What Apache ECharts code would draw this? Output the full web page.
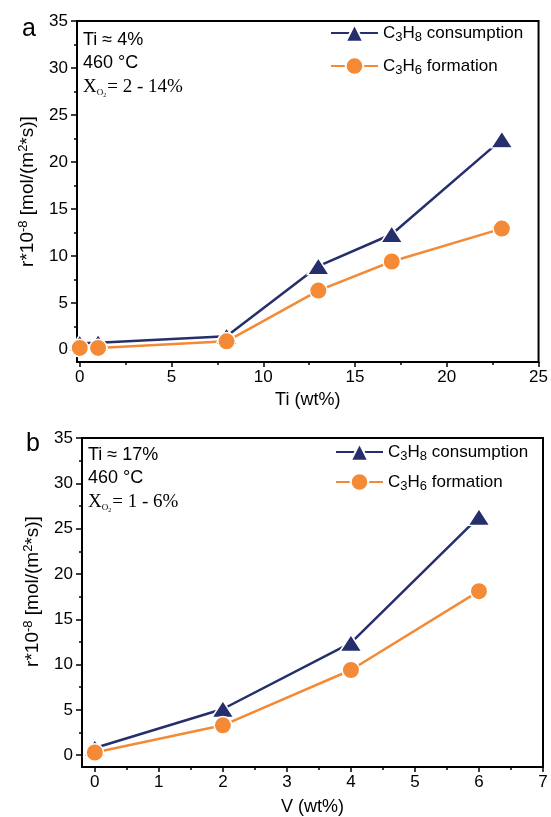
<!DOCTYPE html>
<html>
<head>
<meta charset="utf-8">
<script src="https://cdn.jsdelivr.net/npm/echarts@6/dist/echarts.min.js"></script>
<style>
html,body{margin:0;padding:0;background:#fff;}
#c{width:551px;height:817px;}
</style>
</head>
<body>
<div id="c"></div>
<script>
// ---- data ----
var tiX = [0, 1, 8, 13, 17, 23];
var tiC3H8 = [0.7, 0.75, 1.45, 8.9, 12.3, 22.4];
var tiC3H6 = [0.2, 0.2, 0.9, 6.3, 9.4, 12.9];

var vX = [0, 2, 4, 6];
var vC3H8 = [0.8, 5.1, 12.4, 26.3];
var vC3H6 = [0.3, 3.3, 9.4, 18.1];

var tiMajor = [0, 5, 10, 15, 20, 25];
var tiMinor = [2.5, 7.5, 12.5, 17.5, 22.5];
var vMajor = [0, 1, 2, 3, 4, 5, 6, 7];
var vMinor = [0.5, 1.5, 2.5, 3.5, 4.5, 5.5, 6.5];
var yMajor = [0, 5, 10, 15, 20, 25, 30, 35];
var yMinor = [2.5, 7.5, 12.5, 17.5, 22.5, 27.5, 32.5];

var seriesNames = ['C3H8 consumption', 'C3H6 formation'];
var legendLabels = {
  'C3H8 consumption': 'C{sub|3}H{sub|8} consumption',
  'C3H6 formation': 'C{sub|3}H{sub|6} formation'
};

var NAVY = '#262f6b';
var ORANGE = '#f48a35';
var FONT = 'Liberation Sans, Arial, sans-serif';
var SERIF = 'Liberation Serif, Times New Roman, serif';

function zip(a, b) { return a.map(function (v, i) { return [v, b[i]]; }); }

var chart = echarts.init(document.getElementById('c'), null, {renderer: 'canvas'});

var yName = 'r*10{sup|-8} [mol/(m{sup|2}*s)]';
function yNameStyle(pad) {
  return {
    fontSize: 19, fontFamily: FONT, color: '#000', padding: pad,
    rich: { sup: { fontSize: 13, fontFamily: FONT, padding: [0, 0, 8, 0], lineHeight: 13 } }
  };
}

function mainX(grid, min, max, major, name, gap) {
  return {
    type: 'value', gridIndex: grid, min: min, max: max, position: 'bottom',
    axisLine: { show: true, onZero: false, lineStyle: { color: '#000', width: 2 } },
    axisTick: { show: true, inside: false, length: 5, customValues: major, lineStyle: { color: '#000', width: 1.5 } },
    axisLabel: { show: true, customValues: major, fontSize: 17, fontFamily: FONT, color: '#000', margin: 7 },
    splitLine: { show: false },
    name: name, nameLocation: 'middle', nameGap: gap,
    nameTextStyle: { fontSize: 18, fontFamily: FONT, color: '#000' }
  };
}
function minorX(grid, min, max, minor) {
  return {
    type: 'value', gridIndex: grid, min: min, max: max, position: 'bottom',
    axisLine: { show: false, onZero: false },
    axisTick: { show: true, inside: false, length: 3, customValues: minor, lineStyle: { color: '#000', width: 1.5 } },
    axisLabel: { show: false }, splitLine: { show: false }
  };
}
function mainY(grid, min, max, gap, pad) {
  return {
    type: 'value', gridIndex: grid, min: min, max: max, position: 'left',
    axisLine: { show: true, onZero: false, lineStyle: { color: '#000', width: 2 } },
    axisTick: { show: true, inside: false, length: 6, customValues: yMajor, lineStyle: { color: '#000', width: 1.5 } },
    axisLabel: { show: true, customValues: yMajor, fontSize: 17, fontFamily: FONT, color: '#000', margin: 9 },
    splitLine: { show: false },
    name: yName, nameLocation: 'middle', nameGap: gap, nameRotate: 90,
    nameTextStyle: yNameStyle(pad)
  };
}
function minorY(grid, min, max) {
  return {
    type: 'value', gridIndex: grid, min: min, max: max, position: 'left',
    axisLine: { show: false, onZero: false },
    axisTick: { show: true, inside: false, length: 3, customValues: yMinor, lineStyle: { color: '#000', width: 1.5 } },
    axisLabel: { show: false }, splitLine: { show: false }
  };
}

function lineSeries(name, xi, yi, data, color, symbol, size) {
  return {
    name: name, type: 'line', xAxisIndex: xi, yAxisIndex: yi, data: data,
    symbol: symbol, symbolSize: size, showSymbol: true, clip: false,
    color: color,
    lineStyle: { color: color, width: 2.5 },
    itemStyle: { color: color, borderColor: '#fff', borderWidth: 1.5 },
    emphasis: { disabled: true }, animation: false
  };
}

function legendAt(left, top, gap) {
  return {
    orient: 'vertical', left: left, top: top,
    itemWidth: 47, itemHeight: 22, itemGap: gap,
    data: seriesNames,
    formatter: function (n) { return legendLabels[n]; },
    textStyle: {
      fontSize: 17, fontFamily: FONT, color: '#000', lineHeight: 20,
      rich: { sub: { fontSize: 13, fontFamily: FONT, padding: [9, 0, 0, 0], lineHeight: 14 } }
    },
    selectedMode: false
  };
}

function annot(left, top, lines) {
  var els = [];
  els.push({ type: 'text', left: left, top: top, style: { text: lines[0], font: '18px ' + FONT, fill: '#000' } });
  els.push({ type: 'text', left: left, top: top + 23, style: { text: '460 °C', font: '18px ' + FONT, fill: '#000' } });
  els.push({ type: 'text', left: left, top: top + 45, style: {
    text: '{x|X}{o|O}{t|2}{x|= ' + lines[1] + '}',
    rich: {
      x: { fontSize: 19, fontFamily: SERIF, lineHeight: 20 },
      o: { fontSize: 9, fontFamily: SERIF, padding: [12, 0, 0, 0], lineHeight: 10 },
      t: { fontSize: 6, fontFamily: SERIF, padding: [16, 1, 0, 0], lineHeight: 6 }
    }, fill: '#000' } });
  return els;
}

var option = {
  backgroundColor: '#fff',
  animation: false,
  grid: [
    { left: 77, top: 21, width: 463, height: 341, show: true, borderColor: '#000', borderWidth: 2, backgroundColor: 'transparent' },
    { left: 82, top: 438, width: 461, height: 331, show: true, borderColor: '#000', borderWidth: 2, backgroundColor: 'transparent' }
  ],
  xAxis: [
    mainX(0, -0.15, 25, tiMajor, 'Ti (wt%)', 29),
    minorX(0, -0.15, 25, tiMinor),
    mainX(1, -0.2, 7, vMajor, 'V (wt%)', 31),
    minorX(1, -0.2, 7, vMinor)
  ],
  yAxis: [
    mainY(0, -1.3, 35, 38, [0, 0, 0, 0]),
    minorY(0, -1.3, 35),
    mainY(1, -1.3, 35, 40, [0, 0, 0, 22]),
    minorY(1, -1.3, 35)
  ],
  legend: [legendAt(325, 17, 11), legendAt(330, 436, 8)],
  series: [
    lineSeries('C3H8 consumption', 0, 0, zip(tiX, tiC3H8), NAVY, 'triangle', [22, 17]),
    lineSeries('C3H6 formation', 0, 0, zip(tiX, tiC3H6), ORANGE, 'circle', 17.5),
    lineSeries('C3H8 consumption', 2, 2, zip(vX, vC3H8), NAVY, 'triangle', [22, 17]),
    lineSeries('C3H6 formation', 2, 2, zip(vX, vC3H6), ORANGE, 'circle', 17.5)
  ],
  graphic: [
    { type: 'text', left: 22, top: 17, style: { text: 'a', font: '25px ' + FONT, fill: '#000' } },
    { type: 'text', left: 26, top: 432, style: { text: 'b', font: '25px ' + FONT, fill: '#000' } }
  ].concat(annot(83, 31, ['Ti ≈ 4%', '2 - 14%'])).concat(annot(88, 446, ['Ti ≈ 17%', '1 - 6%']))
};
chart.setOption(option);
</script>
</body>
</html>
